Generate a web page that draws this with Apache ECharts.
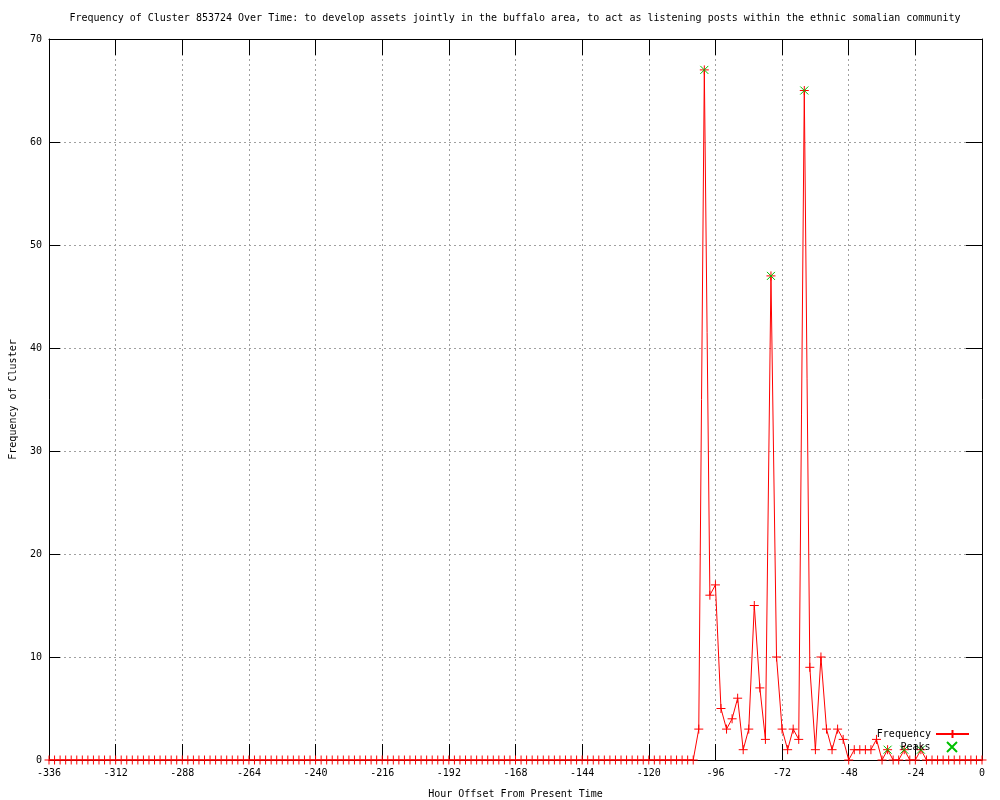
<!DOCTYPE html>
<html>
<head>
<meta charset="utf-8">
<script src="https://cdn.jsdelivr.net/npm/echarts@6/dist/echarts.min.js"></script>
<style>
  html, body { margin: 0; padding: 0; background: #fff; }
  #chart_freq { width: 1000px; height: 800px; }
</style>
</head>
<body>
<div id="chart_freq"></div>
<script>
var titleText = 'Frequency of Cluster 853724 Over Time: to develop assets jointly in the buffalo area, to act as listening posts within the ethnic somalian community';

// hour offsets, every 2 hours
var hours = [
  -336,-334,-332,-330,-328,-326,-324,-322,-320,-318,-316,-314,-312,-310,-308,-306,-304,-302,-300,-298,
  -296,-294,-292,-290,-288,-286,-284,-282,-280,-278,-276,-274,-272,-270,-268,-266,-264,-262,-260,-258,
  -256,-254,-252,-250,-248,-246,-244,-242,-240,-238,-236,-234,-232,-230,-228,-226,-224,-222,-220,-218,
  -216,-214,-212,-210,-208,-206,-204,-202,-200,-198,-196,-194,-192,-190,-188,-186,-184,-182,-180,-178,
  -176,-174,-172,-170,-168,-166,-164,-162,-160,-158,-156,-154,-152,-150,-148,-146,-144,-142,-140,-138,
  -136,-134,-132,-130,-128,-126,-124,-122,-120,-118,-116,-114,-112,-110,-108,-106,-104,-102,-100,-98,
  -96,-94,-92,-90,-88,-86,-84,-82,-80,-78,-76,-74,-72,-70,-68,-66,-64,-62,-60,-58,
  -56,-54,-52,-50,-48,-46,-44,-42,-40,-38,-36,-34,-32,-30,-28,-26,-24,-22,-20,-18,
  -16,-14,-12,-10,-8,-6,-4,-2,0
];

var frequency = [
  0,0,0,0,0,0,0,0,0,0,0,0,0,0,0,0,0,0,0,0,
  0,0,0,0,0,0,0,0,0,0,0,0,0,0,0,0,0,0,0,0,
  0,0,0,0,0,0,0,0,0,0,0,0,0,0,0,0,0,0,0,0,
  0,0,0,0,0,0,0,0,0,0,0,0,0,0,0,0,0,0,0,0,
  0,0,0,0,0,0,0,0,0,0,0,0,0,0,0,0,0,0,0,0,
  0,0,0,0,0,0,0,0,0,0,0,0,0,0,0,0,0,3,67,16,
  17,5,3,4,6,1,3,15,7,2,47,10,3,1,3,2,65,9,1,10,
  3,1,3,2,0,1,1,1,1,2,0,1,0,0,1,0,0,1,0,0,
  0,0,0,0,0,0,0,0,0
];

var peakHours = [-100, -76, -64, -34, -28, -22];
var peakValues = [67, 47, 65, 1, 1, 1];

var xTicks = { min: -336, max: 0, step: 24 };
var yTicks = { min: 0, max: 70, step: 10 };

var myChartFreq = echarts.init(document.getElementById('chart_freq'));

function drawFreq(myChart){
  var font = 'DejaVu Sans Mono';
  var plus = 'path://M0,5L10,5M5,0L5,10';
  var cross = 'path://M0,0L10,10M10,0L0,10';
  var gridLine = { show: true, lineStyle: { color: '#a0a0a0', type: [2, 3], width: 1 } };

  var freqData = [];
  for (var i = 0; i < hours.length; i++) freqData.push([hours[i], frequency[i]]);
  var peakData = [];
  for (var j = 0; j < peakHours.length; j++) peakData.push([peakHours[j], peakValues[j]]);

  var option = {
    animation: false,
    backgroundColor: '#fff',
    textStyle: { fontFamily: font },
    title: {
      text: titleText,
      left: 515,
      textAlign: 'center',
      top: 13,
      padding: 0,
      textStyle: { fontFamily: font, fontSize: 10, fontWeight: 'normal', color: '#000' }
    },
    legend: [
      {
        data: ['Frequency'],
        right: 25,
        top: 724,
        align: 'right',
        itemWidth: 33,
        itemHeight: 10,
        textStyle: { fontFamily: font, fontSize: 10, color: '#000' }
      },
      {
        data: ['Peaks'],
        right: 37,
        top: 736,
        align: 'right',
        itemWidth: 33,
        itemHeight: 10,
        textStyle: { fontFamily: font, fontSize: 10, color: '#000' }
      }
    ],
    grid: { left: 49, right: 18, top: 39, bottom: 40, containLabel: false, outerBoundsMode: 'none' },
    xAxis: [
      {
        type: 'value',
        min: xTicks.min, max: xTicks.max, interval: xTicks.step,
        name: 'Hour Offset From Present Time',
        nameLocation: 'middle',
        nameGap: 29,
        nameTextStyle: { fontFamily: font, fontSize: 10, color: '#000' },
        axisLine: { show: true, onZero: false, lineStyle: { color: '#000', width: 1 } },
        axisTick: { show: true, inside: true, length: 16, lineStyle: { color: '#000' } },
        axisLabel: { fontFamily: font, fontSize: 10, color: '#000', margin: 8 },
        splitLine: gridLine
      },
      {
        type: 'value', position: 'top',
        min: xTicks.min, max: xTicks.max, interval: xTicks.step,
        axisLine: { show: true, onZero: false, lineStyle: { color: '#000', width: 1 } },
        axisTick: { show: true, inside: true, length: 16, lineStyle: { color: '#000' } },
        axisLabel: { show: false },
        splitLine: { show: false }
      }
    ],
    yAxis: [
      {
        type: 'value',
        min: yTicks.min, max: yTicks.max, interval: yTicks.step,
        name: 'Frequency of Cluster',
        nameLocation: 'middle',
        nameGap: 31,
        nameTextStyle: { fontFamily: font, fontSize: 10, color: '#000' },
        axisLine: { show: true, onZero: false, lineStyle: { color: '#000', width: 1 } },
        axisTick: { show: true, inside: true, length: 11, lineStyle: { color: '#000' } },
        axisLabel: { fontFamily: font, fontSize: 10, color: '#000', margin: 7 },
        splitLine: gridLine
      },
      {
        type: 'value', position: 'right',
        min: yTicks.min, max: yTicks.max, interval: yTicks.step,
        axisLine: { show: true, onZero: false, lineStyle: { color: '#000', width: 1 } },
        axisTick: { show: true, inside: true, length: 16, lineStyle: { color: '#000' } },
        axisLabel: { show: false },
        splitLine: { show: false }
      }
    ],
    series: [
      {
        name: 'Frequency',
        type: 'line',
        data: freqData,
        symbol: plus,
        symbolSize: 9,
        showAllSymbol: true,
        lineStyle: { color: '#ff0000', width: 1 },
        itemStyle: { color: '#ff0000', borderColor: '#ff0000', borderWidth: 1 },
        z: 2
      },
      {
        name: 'Peaks',
        type: 'scatter',
        data: peakData,
        symbol: cross,
        symbolSize: 8,
        itemStyle: { color: '#00c000', borderColor: '#00c000', borderWidth: 1, opacity: 1 },
        z: 3
      }
    ]
  };

  myChart.setOption(option);
}

drawFreq(myChartFreq);
</script>
</body>
</html>
